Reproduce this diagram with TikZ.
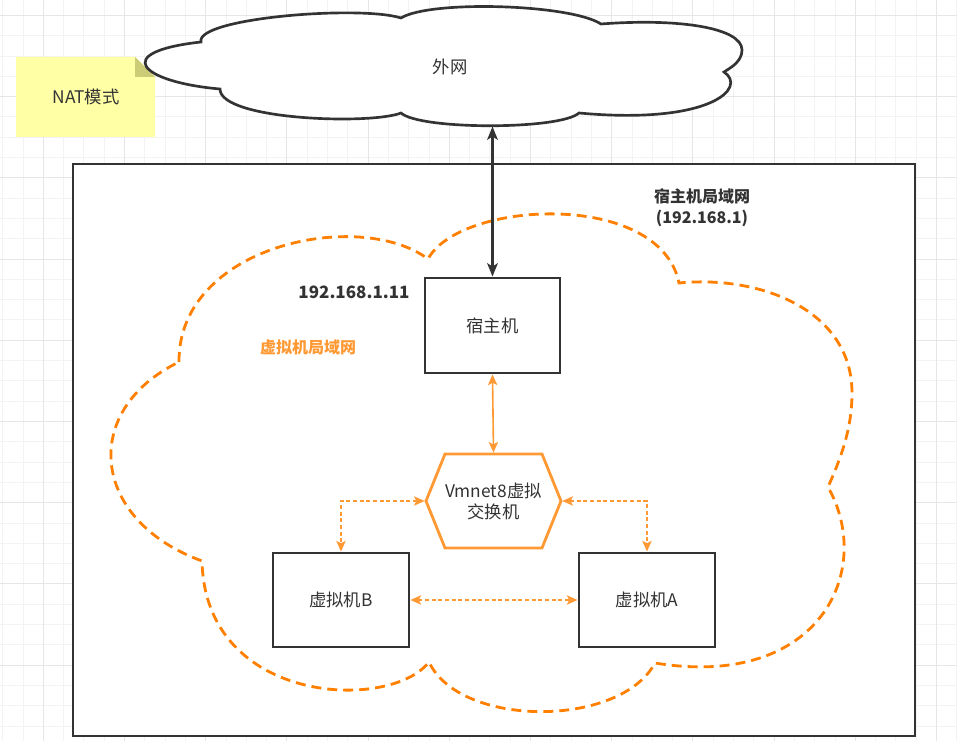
\documentclass[tikz,border=0pt]{standalone}
\usepackage{fontspec}
\setmainfont{Noto Sans CJK SC}
\usetikzlibrary{arrows.meta}
\definecolor{txt}{HTML}{333333}
\definecolor{org}{HTML}{FF8000}
\definecolor{org2}{HTML}{FF9933}
\definecolor{gminor}{HTML}{F3F3F3}
\definecolor{gmajor}{HTML}{E6E6E6}
\definecolor{noteY}{HTML}{FFFFA6}
\definecolor{noteF}{HTML}{CCCC77}
\tikzset{
  gridminor/.style={draw=gminor, line width=0.75pt},
  gridmajor/.style={draw=gmajor, line width=0.75pt},
  txtfont/.style={text=txt, font=\fontsize{13}{15.75}\selectfont},
  boldlbl/.style={text=txt, font=\fontsize{12}{15.75}\selectfont\bfseries, align=center},
  box/.style={draw=txt, line width=2.2pt, fill=white, inner sep=0pt, txtfont},
  blk/.style={draw=txt, line width=1.6pt, {Stealth[length=10pt,width=8pt,inset=2.5pt]}-{Stealth[length=10pt,width=8pt,inset=2.5pt]}},
  olink/.style={draw=org2, line width=1.2pt, {Stealth[length=8pt,width=7pt,inset=1.8pt]}-{Stealth[length=8pt,width=7pt,inset=1.8pt]}},
  odash/.style={olink, dash pattern=on 3pt off 2pt},
  lancloud/.style={draw=org, line width=2.1pt, dash pattern=on 7.5pt off 4.5pt},
  wancloud/.style={draw=txt, line width=2pt, fill=white},
}
\begin{document}
\begin{tikzpicture}[x=0.75pt,y=-0.75pt]
\useasboundingbox (0,0) rectangle (957,741);
\fill[white] (0,0) rectangle (957,741);
% grid
\foreach \i in {0,...,47} \draw[gridminor] ({2.7+20.3*\i},0) -- ({2.7+20.3*\i},741);
\foreach \j in {0,...,36} \draw[gridminor] (0,{15.5+20.3*\j}) -- (957,{15.5+20.3*\j});
\foreach \i in {0,...,11} \draw[gridmajor] ({43.3+81.2*\i},0) -- ({43.3+81.2*\i},741);
\foreach \j in {0,...,9} \draw[gridmajor] (0,{15.5+81.2*\j}) -- (957,{15.5+81.2*\j});

% note
\fill[noteY] (16,57) -- (135,57) -- (155,77) -- (155,137) -- (16,137) -- cycle;
\fill[noteF] (135,57) -- (135,77) -- (155,77) -- cycle;
\node[txtfont] (nat) at (86,97) {NAT模式};

% outer host LAN box
\node[draw=txt, line width=2.2pt, fill=white, minimum width=631.5pt, minimum height=429pt, inner sep=0pt] (lan) at (494,450) {};

% top cloud
\draw[wancloud] (201,42)
  .. controls (195,18) and (360,5) .. (401,18)
  .. controls (430,0) and (570,4) .. (601,24)
  .. controls (680,18) and (742,28) .. (742,50)
  .. controls (742,62) and (730,68) .. (724,72)
  .. controls (748,88) and (710,125) .. (579,113)
  .. controls (560,130) and (420,130) .. (401,113)
  .. controls (370,125) and (220,120) .. (220,89)
  .. controls (140,82) and (110,52) .. (201,42) -- cycle;
\node[txtfont] (wan) at (450,67) {外网};
\coordinate (wanbot) at (492.5,126.5);

% VM LAN cloud
\draw[lancloud] (179,362)
  .. controls (178,245) and (360,208) .. (428,259)
  .. controls (460,200) and (660,190) .. (679,283)
  .. controls (760,275) and (852,310) .. (852,393)
  .. controls (852,430) and (840,460) .. (828,487)
  .. controls (875,570) and (820,690) .. (655,663)
  .. controls (620,728) and (460,728) .. (429,662)
  .. controls (390,712) and (205,705) .. (202,561)
  .. controls (90,520) and (80,410) .. (179,362) -- cycle;

% boxes
\node[box, minimum width=101.25pt, minimum height=71.25pt] (host) at (492.5,325.5) {宿主机};
\node[box, minimum width=102pt, minimum height=70.5pt] (vmB) at (341,600) {虚拟机B};
\node[box, minimum width=102pt, minimum height=70.5pt] (vmA) at (647,600) {虚拟机A};

% hexagon switch
\node[minimum width=101.25pt, minimum height=70.5pt, inner sep=0pt, outer sep=1pt] (hex) at (493.5,501) {};
\draw[draw=org2, line width=2.1pt, fill=white]
  (hex.center) ++(-67.5,0) -- ++(19,-47) -- ++(97,0) -- ++(19,47) -- ++(-19,47) -- ++(-97,0) -- cycle;
\node[txtfont, align=center] (hextext) at (hex.center) {Vmnet8虚拟\\交换机};

% connectors
\draw[blk] (wanbot) -- (host.north);
\draw[olink] (host.south) -- (hex.north);
\draw[odash] (hex.west) -| (vmB.north);
\draw[odash] (hex.east) -| (vmA.north);
\draw[odash] (vmB.east) -- (vmA.west);

% labels
\node[text=txt, font=\fontsize{12.75}{15.75}\selectfont\bfseries] (hostip) at (354,292) {192.168.1.11};
\node[boldlbl] (lanlbl) at (702,207.5) {宿主机局域网\\(192.168.1)};
\node[text=org2, font=\fontsize{12}{15.75}\selectfont\bfseries] (vlan) at (308,347) {虚拟机局域网};
\end{tikzpicture}
\end{document}
